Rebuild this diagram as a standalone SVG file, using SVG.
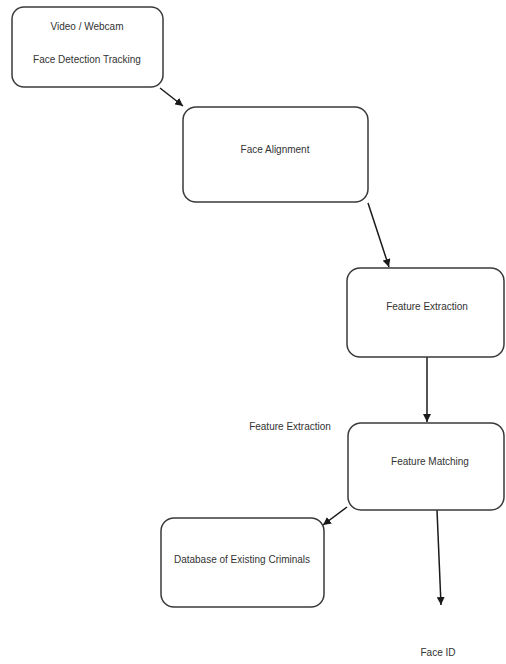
<svg xmlns="http://www.w3.org/2000/svg" width="506" height="664" viewBox="0 0 506 664">
<style>
.box{fill:#fff;stroke:#3a3a3a;stroke-width:1.5}
.t{font-family:"Liberation Sans",Arial,sans-serif;font-size:10px;fill:#333;text-anchor:middle}
.c{stroke:#1a1a1a;stroke-width:1.5;fill:none;marker-end:url(#ah)}
</style>
<defs>
<marker id="ah" viewBox="0 0 10 10" refX="10" refY="5" markerWidth="8" markerHeight="8" orient="auto" markerUnits="userSpaceOnUse">
<path d="M0,0 L10,5 L0,10 z" fill="#1a1a1a"/>
</marker>
</defs>
<rect width="506" height="664" fill="#fff"/>
<g id="connectors">
<line class="c" x1="160" y1="88" x2="183" y2="106"/>
<line class="c" x1="368" y1="203" x2="389" y2="267"/>
<line class="c" x1="427" y1="357" x2="427" y2="422"/>
<line class="c" x1="347" y1="507" x2="323" y2="525"/>
<line class="c" x1="437" y1="510" x2="441" y2="605"/>
</g>
<g id="n1">
<rect class="box" x="12" y="7" width="151" height="80" rx="12"/>
<text class="t" x="87" y="30">Video / Webcam</text>
<text class="t" x="87" y="63">Face Detection Tracking</text>
</g>
<g id="n2">
<rect class="box" x="183" y="107" width="185" height="95" rx="13"/>
<text class="t" x="275" y="153">Face Alignment</text>
</g>
<g id="n3">
<rect class="box" x="347" y="268" width="157" height="89" rx="13"/>
<text class="t" x="427" y="310">Feature Extraction</text>
</g>
<g id="lbl">
<text class="t" x="290" y="430">Feature Extraction</text>
</g>
<g id="n4">
<rect class="box" x="348" y="423" width="156" height="87" rx="13"/>
<text class="t" x="430" y="465">Feature Matching</text>
</g>
<g id="n5">
<rect class="box" x="161" y="518" width="163" height="89" rx="13"/>
<text class="t" x="242" y="563">Database of Existing Criminals</text>
</g>
<g id="n6">
<text class="t" x="438" y="656">Face ID</text>
</g>
</svg>
